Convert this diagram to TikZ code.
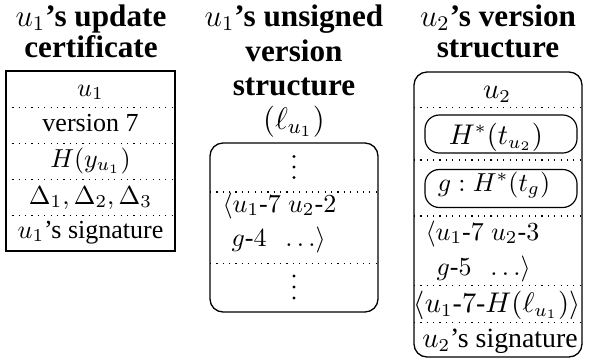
\documentclass[tikz,border=0pt]{standalone}
\usepackage{fontspec}
\setmainfont{Liberation Serif}
\begin{document}
\begin{tikzpicture}[x=0.3846pt,y=-0.3846pt,
  ttl/.style={anchor=base,inner sep=0pt,font=\fontsize{12}{14}\selectfont\bfseries},
  txt/.style={anchor=base,inner sep=0pt,font=\fontsize{10}{12}\selectfont},
  txtb/.style={anchor=base,inner sep=0pt,font=\fontsize{10.7}{12}\selectfont},
  txtl/.style={anchor=base west,inner sep=0pt,font=\fontsize{10}{12}\selectfont},
  outer/.style={draw,line width=0.5pt},
  sep/.style={dotted,line width=0.45pt},
  pill/.style={draw,line width=0.45pt,rounded corners=5.5pt},
  vdot/.style={fill,radius=0.62pt}]
\useasboundingbox (0,0) rectangle (591,360);
% ---------- column 1 ----------
\node[ttl] (t1a) at (91,26) {$u_1$'s update};
\node[ttl] (t1b) at (91,57) {certificate};
\draw[outer] (6,71) rectangle (175,251);
\foreach \yy in {107.5,143.5,179.5,215.5} \draw[sep] (6,\yy) -- (175,\yy);
\node[txt] (c1r1) at (90.5,96) {$u_1$};
\node[txt] (c1r2) at (90.5,131) {version 7};
\node[txt] (c1r3) at (90.5,167) {$H(y_{u_1})$};
\node[txt] (c1r4) at (90.5,204) {$\Delta_1, \Delta_2, \Delta_3$};
\node[txt] (c1r5) at (90.5,238) {$u_1$'s signature};
% ---------- column 2 ----------
\node[ttl] (t2a) at (294,26) {$u_1$'s unsigned};
\node[ttl] (t2b) at (294,61) {version};
\node[ttl] (t2c) at (294,95) {structure};
\node[ttl] (t2d) at (294,129) {$(\ell_{u_1})$};
\draw[outer,rounded corners=5pt] (210,143) rectangle (378,312);
\foreach \yy in {192,263.5} \draw[sep] (210,\yy) -- (378,\yy);
\foreach \yy in {156.5,167,177.5,276,287,298} \fill[vdot] (294,\yy) circle;
\node[txtl] (c2l1) at (222,212) {$\langle u_1\mbox{-}7\; u_2\mbox{-}2$};
\node[txtl] (c2l2) at (231,246) {$g\mbox{-}4\;\;\ldots\rangle$};
% ---------- column 3 ----------
\node[ttl] (t3a) at (498,26) {$u_2$'s version};
\node[ttl] (t3b) at (498,57) {structure};
\draw[outer,rounded corners=5pt] (414,72) rectangle (582,357);
\foreach \yy in {107.5,160,216,285.5,322.5} \draw[sep] (414,\yy) -- (582,\yy);
\node[txtb] (c3r1) at (497,98) {$u_2$};
\draw[pill] (425,115) rectangle (577,153);
\node[txtb] (c3r2) at (496,144) {$H^*(t_{u_2})$};
\draw[pill] (425,169.5) rectangle (577,207.5);
\node[txt] (c3r3) at (494,191) {$g : H^*(t_g)$};
\node[txtl] (c3l1) at (425,240) {$\langle u_1\mbox{-}7\; u_2\mbox{-}3$};
\node[txtl] (c3l2) at (436,275) {$g\mbox{-}5\;\;\ldots\rangle$};
\node[txtb] (c3r4) at (497,312) {$\langle u_1\mbox{-}7\mbox{-}H(\ell_{u_1})\rangle$};
\node[txtb] (c3r5) at (500,347) {$u_2$'s signature};
\end{tikzpicture}
\end{document}
